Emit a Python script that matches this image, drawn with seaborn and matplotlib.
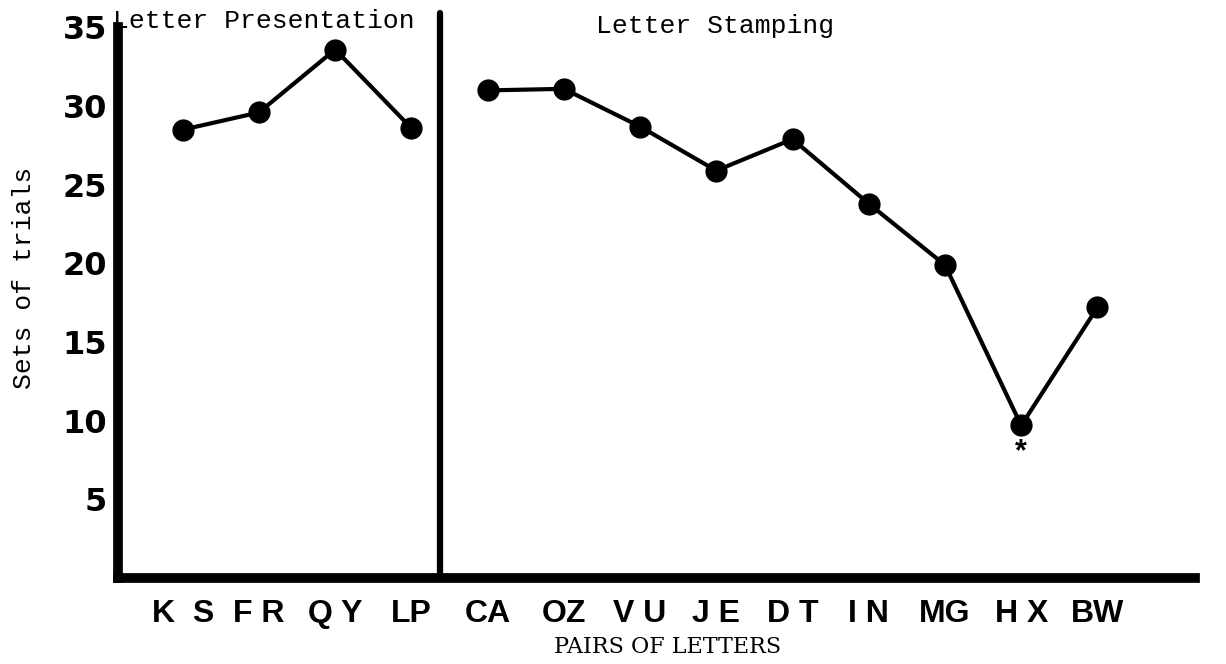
import numpy as np
import pandas as pd
import matplotlib
matplotlib.use("Agg")
import matplotlib.pyplot as plt
import seaborn as sns

# ---- data ----
pairs = ["K  S", "F R", "Q Y", "LP", "CA", "OZ", "V U", "J E", "D T", "I N", "MG", "H X", "BW"]
phase = ["Presentation"] * 4 + ["Stamping"] * 9
sets_of_trials = [28.5, 29.6, 33.6, 28.6, 31.0, 31.1, 28.7, 25.9, 27.9, 23.8, 19.9, 9.7, 17.2]
y_ticks = [5, 10, 15, 20, 25, 30, 35]
panel_titles = ["Letter Presentation", "Letter Stamping"]

df = pd.DataFrame({
    "pos": np.arange(len(pairs)),
    "pair": pairs,
    "phase": phase,
    "sets": sets_of_trials,
})

sns.set_theme(style="white")
plt.rcParams["font.family"] = ["Liberation Sans", "DejaVu Sans"]

fig = plt.figure(figsize=(12.26, 6.64), dpi=100)
ax = fig.add_axes([0.0962, 0.1295, 0.8785, 0.8291])

sns.lineplot(data=df, x="pos", y="sets", hue="phase",
             palette={"Presentation": "black", "Stamping": "black"},
             marker="o", markersize=16, markeredgewidth=0,
             linewidth=3, legend=False, ax=ax)

ax.set_xlim(-0.85, 13.28)
ax.set_ylim(0, 35)

# spines
for s in ["top", "right"]:
    ax.spines[s].set_visible(False)
for s in ["left", "bottom"]:
    ax.spines[s].set_linewidth(7)
    ax.spines[s].set_color("black")
    ax.spines[s].set_capstyle("projecting")

# divider between the two phases
ax.axvline(3.37, ymin=0, ymax=1.027, color="black", linewidth=4.5, clip_on=False)

# ticks
ax.set_yticks(y_ticks)
ax.set_yticklabels([str(v) for v in y_ticks])
ax.set_xticks(df["pos"])
ax.set_xticklabels(pairs)
ax.tick_params(axis="y", direction="out", length=6, width=2.5, color="black",
               labelsize=23, pad=2)
ax.tick_params(axis="x", direction="out", length=6, width=3, color="black",
               labelsize=23, pad=9)
for lab in ax.get_yticklabels():
    lab.set_fontweight("bold")
    lab.set_family("DejaVu Sans")
    lab.set_color("black")
for lab in ax.get_xticklabels():
    lab.set_fontweight("bold")
    lab.set_color("black")

# axis labels
ax.set_ylabel("Sets of trials", family="Liberation Mono", fontsize=19, color="black")
ax.yaxis.set_label_coords(-0.076, 0.545)
ax.set_xlabel("PAIRS OF LETTERS", family="DejaVu Serif", fontsize=16, color="black")
ax.xaxis.set_label_coords(0.51, -0.105)

# panel titles
ax.text(1.06, 35.4, panel_titles[0], family="Liberation Mono", fontsize=19,
        ha="center", va="center", color="black", clip_on=False)
ax.text(6.98, 35.1, panel_titles[1], family="Liberation Mono", fontsize=19,
        ha="center", va="center", color="black", clip_on=False)

# significance marker under HX
ax.text(11, 8.0, "*", fontsize=22, fontweight="bold", ha="center", va="center",
        color="black")

ax.grid(False)
fig.savefig("out.png", dpi=100, facecolor="white")
